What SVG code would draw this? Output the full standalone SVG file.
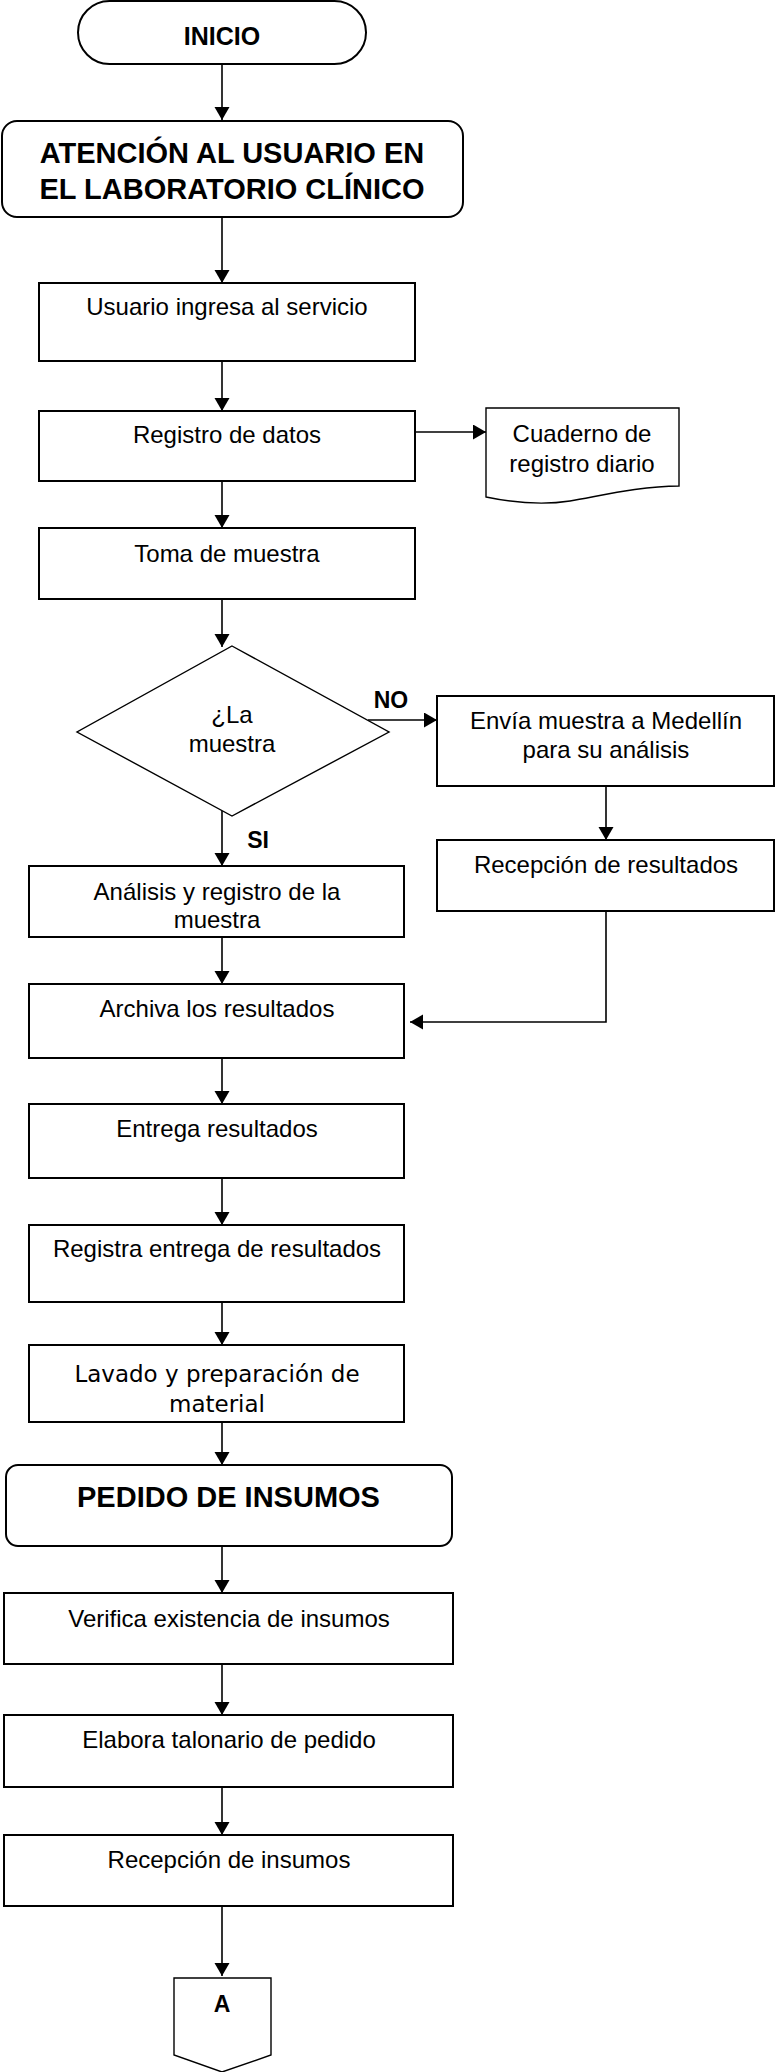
<svg xmlns="http://www.w3.org/2000/svg" width="775" height="2072" viewBox="0 0 775 2072">
<defs>
<marker id="ah" markerUnits="userSpaceOnUse" markerWidth="14" markerHeight="16" refX="13" refY="7.5" orient="auto">
<path d="M0,0 L13,7.5 L0,15 z" fill="#000"/>
</marker>
<style>
.box{fill:#fff;stroke:#000;stroke-width:2}
.thin{fill:#fff;stroke:#000;stroke-width:1.4}
.t{font-family:"Liberation Sans",Arial,sans-serif;font-size:24px;fill:#000;text-anchor:middle}
.b{font-family:"Liberation Sans",Arial,sans-serif;font-weight:bold;fill:#000;text-anchor:middle}
.v{font-family:"DejaVu Sans",Verdana,sans-serif;font-size:23px;fill:#000;text-anchor:middle}
.c{fill:none;stroke:#000;stroke-width:1.6;marker-end:url(#ah)}
</style>
</defs>
<rect width="775" height="2072" fill="#fff"/>

<g id="connectors">
<path class="c" d="M222,64 V120"/>
<path class="c" d="M222,217 V283"/>
<path class="c" d="M222,361 V411"/>
<path class="c" d="M415,432 H486"/>
<path class="c" d="M222,481 V528"/>
<path class="c" d="M222,599 V647"/>
<path class="c" d="M368,720 H437"/>
<path class="c" d="M606,786 V840"/>
<path class="c" d="M222,811 V866"/>
<path class="c" d="M606,911 V1022 H410"/>
<path class="c" d="M222,937 V984"/>
<path class="c" d="M222,1058 V1104"/>
<path class="c" d="M222,1178 V1225"/>
<path class="c" d="M222,1302 V1345"/>
<path class="c" d="M222,1422 V1465"/>
<path class="c" d="M222,1546 V1593"/>
<path class="c" d="M222,1664 V1715"/>
<path class="c" d="M222,1787 V1835"/>
<path class="c" d="M222,1906 V1976"/>
</g>

<g id="inicio">
<rect class="box" x="78" y="1" width="288" height="63" rx="31.5" ry="31.5"/>
<text class="b" x="222" y="45" font-size="25">INICIO</text>
</g>

<g id="atencion">
<rect class="box" x="2" y="121" width="461" height="96" rx="15" ry="15"/>
<text class="b" x="232" y="163" font-size="29">ATENCIÓN AL USUARIO EN</text>
<text class="b" x="232" y="199" font-size="29">EL LABORATORIO CLÍNICO</text>
</g>

<g id="usuario">
<rect class="box" x="39" y="283" width="376" height="78"/>
<text class="t" x="227" y="315">Usuario ingresa al servicio</text>
</g>

<g id="registro">
<rect class="box" x="39" y="411" width="376" height="70"/>
<text class="t" x="227" y="443">Registro de datos</text>
</g>

<g id="cuaderno">
<path class="thin" d="M486,408 H679 V486 C640,486 600,496 570,501 C545,505 515,503 486,497 Z"/>
<text class="t" x="582" y="442">Cuaderno de</text>
<text class="t" x="582" y="472">registro diario</text>
</g>

<g id="toma">
<rect class="box" x="39" y="528" width="376" height="71"/>
<text class="t" x="227" y="562">Toma de muestra</text>
</g>

<g id="decision">
<path class="thin" d="M232,646 L389,732 L232,816 L77,732 Z"/>
<text class="t" x="232" y="723">¿La</text>
<text class="t" x="232" y="752">muestra</text>
<text class="b" x="391" y="708" font-size="23">NO</text>
<text class="b" x="258" y="848" font-size="23">SI</text>
</g>

<g id="envia">
<rect class="box" x="437" y="696" width="337" height="90"/>
<text class="t" x="606" y="729">Envía muestra a Medellín</text>
<text class="t" x="606" y="758">para su análisis</text>
</g>

<g id="recepcion-resultados">
<rect class="box" x="437" y="840" width="337" height="71"/>
<text class="t" x="606" y="873">Recepción de resultados</text>
</g>

<g id="analisis">
<rect class="box" x="29" y="866" width="375" height="71"/>
<text class="t" x="217" y="900">Análisis y registro de la</text>
<text class="t" x="217" y="928">muestra</text>
</g>

<g id="archiva">
<rect class="box" x="29" y="984" width="375" height="74"/>
<text class="t" x="217" y="1017">Archiva los resultados</text>
</g>

<g id="entrega">
<rect class="box" x="29" y="1104" width="375" height="74"/>
<text class="t" x="217" y="1137">Entrega resultados</text>
</g>

<g id="registra">
<rect class="box" x="29" y="1225" width="375" height="77"/>
<text class="t" x="217" y="1257">Registra entrega de resultados</text>
</g>

<g id="lavado">
<rect class="box" x="29" y="1345" width="375" height="77"/>
<text class="v" x="217" y="1382">Lavado y preparación de</text>
<text class="v" x="217" y="1412">material</text>
</g>

<g id="pedido">
<rect class="box" x="6" y="1465" width="446" height="81" rx="12" ry="12"/>
<text class="b" x="228.5" y="1507" font-size="29">PEDIDO DE INSUMOS</text>
</g>

<g id="verifica">
<rect class="box" x="4" y="1593" width="449" height="71"/>
<text class="t" x="229" y="1627">Verifica existencia de insumos</text>
</g>

<g id="elabora">
<rect class="box" x="4" y="1715" width="449" height="72"/>
<text class="t" x="229" y="1748">Elabora talonario de pedido</text>
</g>

<g id="recepcion-insumos">
<rect class="box" x="4" y="1835" width="449" height="71"/>
<text class="t" x="229" y="1868">Recepción de insumos</text>
</g>

<g id="conector-a">
<path class="thin" d="M174,1978 H271 V2055 L222,2072 L174,2055 Z"/>
<text class="b" x="222" y="2012" font-size="23">A</text>
</g>
</svg>
